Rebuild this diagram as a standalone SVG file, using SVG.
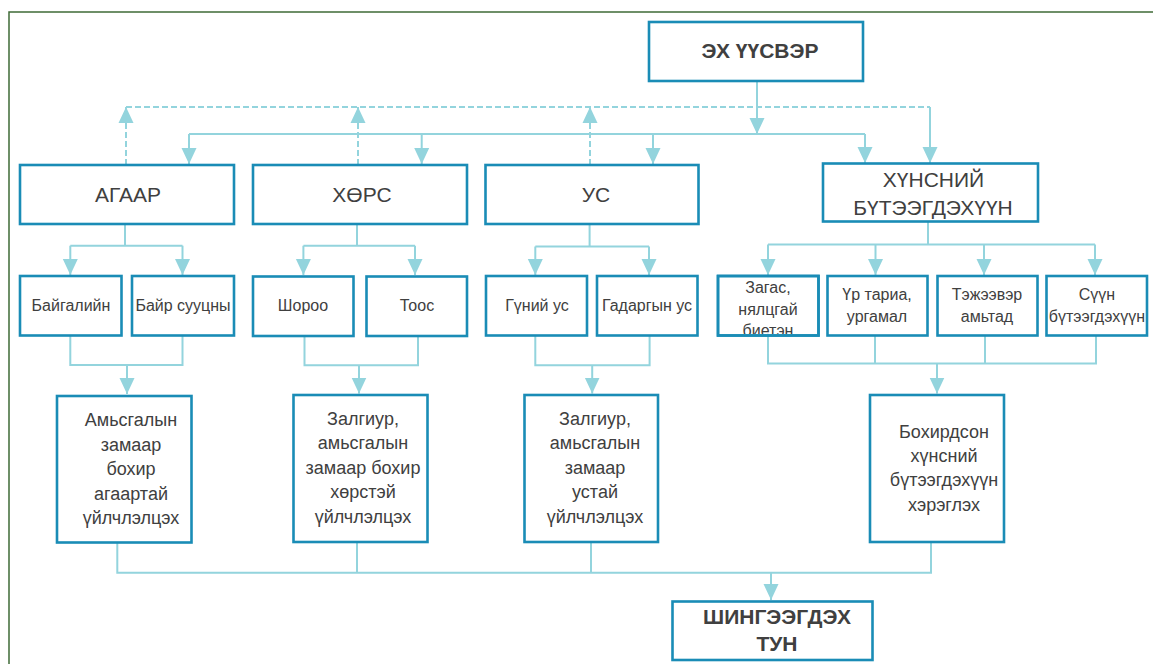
<svg xmlns="http://www.w3.org/2000/svg" width="1153" height="664" viewBox="0 0 1153 664">
<style>
.box{fill:#fff;stroke:#1a8cb6;stroke-width:2.6}
.bord{fill:none;stroke:#1a8cb6;stroke-width:2.6}
.c{fill:none;stroke:#93d4dd;stroke-width:2}
.d{fill:none;stroke:#93d4dd;stroke-width:2;stroke-dasharray:6 3}
.t{font-family:"Liberation Sans",Arial,sans-serif;fill:#404040;text-anchor:middle}
.t20{font-size:21px}
.t18{font-size:18px}
.t16{font-size:16px}
.b{font-weight:bold}
</style>
<defs>
<marker id="ah" markerUnits="userSpaceOnUse" markerWidth="16" markerHeight="16" viewBox="0 0 16 15" refX="16" refY="7.5" orient="auto">
<path d="M0,0 L16,7.5 L0,15 z" fill="#93d4dd"/>
</marker>
<clipPath id="clipZ"><rect x="719" y="277" width="99" height="57"/></clipPath>
</defs>
<rect x="9" y="12" width="1160" height="670" fill="none" stroke="#3f6b37" stroke-width="1.5"/>

<g id="connectors">
<path class="c" d="M757,81 V134" marker-end="url(#ah)"/>
<path class="c" d="M189,134 H865"/>
<path class="c" d="M189,134 V164" marker-end="url(#ah)"/>
<path class="c" d="M421.7,134 V164" marker-end="url(#ah)"/>
<path class="c" d="M653,134 V164" marker-end="url(#ah)"/>
<path class="c" d="M865,134 V163" marker-end="url(#ah)"/>
<path class="d" d="M126,107 H930"/>
<path class="c" d="M930,107 V163" marker-end="url(#ah)"/>
<path class="d" d="M126,165 V107" marker-end="url(#ah)"/>
<path class="d" d="M358,165 V107" marker-end="url(#ah)"/>
<path class="d" d="M590,165 V107" marker-end="url(#ah)"/>

<path class="c" d="M125,224 V245.7 M70.3,245.7 H182.5"/>
<path class="c" d="M70.3,245.7 V275" marker-end="url(#ah)"/>
<path class="c" d="M182.5,245.7 V275" marker-end="url(#ah)"/>
<path class="c" d="M357,224 V245.7 M303.4,245.7 H415"/>
<path class="c" d="M303.4,245.7 V275" marker-end="url(#ah)"/>
<path class="c" d="M415,245.7 V275" marker-end="url(#ah)"/>
<path class="c" d="M589.6,224 V246.5 M535.3,246.5 H649"/>
<path class="c" d="M535.3,246.5 V275" marker-end="url(#ah)"/>
<path class="c" d="M649,246.5 V275" marker-end="url(#ah)"/>
<path class="c" d="M928,222 V244.5 M768,244.5 H1095"/>
<path class="c" d="M768,244.5 V275" marker-end="url(#ah)"/>
<path class="c" d="M875.5,244.5 V275" marker-end="url(#ah)"/>
<path class="c" d="M984,244.5 V275" marker-end="url(#ah)"/>
<path class="c" d="M1095,244.5 V275" marker-end="url(#ah)"/>

<path class="c" d="M70.3,335.5 V365 H182.5 V335.5"/>
<path class="c" d="M127,365 V394" marker-end="url(#ah)"/>
<path class="c" d="M304.5,336 V365.3 H418 V336"/>
<path class="c" d="M359,365.3 V393.5" marker-end="url(#ah)"/>
<path class="c" d="M535.3,335.5 V365.3 H649.6 V335.5"/>
<path class="c" d="M592.2,365.3 V393.5" marker-end="url(#ah)"/>
<path class="c" d="M768,335.5 V363.5 H1096 V335.5 M875,335.5 V363.5 M985,335.5 V363.5"/>
<path class="c" d="M937,363.5 V393.5" marker-end="url(#ah)"/>

<path class="c" d="M117.3,542.7 V572.7 H931 V542.7 M357,542.7 V572.7 M591,542.7 V572.7"/>
<path class="c" d="M771,572.7 V600" marker-end="url(#ah)"/>
</g>

<g id="source">
<rect class="box" x="649" y="22" width="214" height="59"/>
<text class="t t20 b" x="760" y="57.5">ЭХ ҮҮСВЭР</text>
</g>

<g id="air">
<rect class="box" x="20" y="165" width="214" height="59"/>
<text class="t t20" x="128" y="202">АГААР</text>
</g>
<g id="soil">
<rect class="box" x="253" y="165" width="214" height="59"/>
<text class="t t20" x="362" y="202">ХӨРС</text>
</g>
<g id="water">
<rect class="box" x="485.5" y="165" width="213" height="59"/>
<text class="t t20" x="596" y="202">УС</text>
</g>
<g id="food">
<rect class="box" x="823" y="163.5" width="215" height="58"/>
<text class="t t20" x="933.5" y="186.5">ХҮНСНИЙ</text>
<text class="t t20" x="933" y="214.5">БҮТЭЭГДЭХҮҮН</text>
</g>

<g id="natural">
<rect class="box" x="20" y="276" width="101.5" height="59.5"/>
<text class="t t16" x="71" y="311">Байгалийн</text>
</g>
<g id="residential">
<rect class="box" x="132" y="276" width="102" height="59.5"/>
<text class="t t16" x="183" y="311">Байр сууцны</text>
</g>
<g id="dust-soil">
<rect class="box" x="253" y="276.5" width="100.5" height="59.5"/>
<text class="t t16" x="303" y="311">Шороо</text>
</g>
<g id="dust">
<rect class="box" x="366.5" y="276.5" width="100.5" height="59.5"/>
<text class="t t16" x="417" y="311">Тоос</text>
</g>
<g id="groundwater">
<rect class="box" x="486" y="276" width="101" height="59.5"/>
<text class="t t16" x="537" y="311">Гүний ус</text>
</g>
<g id="surfacewater">
<rect class="box" x="597" y="276" width="100.5" height="59.5"/>
<text class="t t16" x="647" y="311">Гадаргын ус</text>
</g>
<g id="fish">
<rect class="box" x="718" y="276" width="100.5" height="59.5"/>
<g clip-path="url(#clipZ)">
<text class="t t16" x="768" y="293">Загас,</text>
<text class="t t16" x="768" y="314.5">нялцгай</text>
<text class="t t16" x="768" y="336">биетэн</text>
</g>
<rect class="bord" x="718" y="276" width="100.5" height="59.5"/>
</g>
<g id="grain">
<rect class="box" x="827.5" y="276" width="100" height="59.5"/>
<text class="t t16" x="877" y="300">Үр тариа,</text>
<text class="t t16" x="877" y="322">ургамал</text>
</g>
<g id="livestock">
<rect class="box" x="937.5" y="276" width="100" height="59.5"/>
<text class="t t16" x="987" y="300">Тэжээвэр</text>
<text class="t t16" x="987" y="322">амьтад</text>
</g>
<g id="dairy">
<rect class="box" x="1046.5" y="276" width="100.5" height="59.5"/>
<text class="t t16" x="1097" y="300">Сүүн</text>
<text class="t t16" x="1097" y="322">бүтээгдэхүүн</text>
</g>

<g id="inhalation">
<rect class="box" x="57" y="396" width="134.5" height="146.5"/>
<text class="t t18" x="131" y="426">Амьсгалын</text>
<text class="t t18" x="131" y="450.5">замаар</text>
<text class="t t18" x="131" y="475">бохир</text>
<text class="t t18" x="131" y="499.5">агаартай</text>
<text class="t t18" x="131" y="524">үйлчлэлцэх</text>
</g>
<g id="ingest-soil">
<rect class="box" x="293.5" y="395" width="134" height="147"/>
<text class="t t18" x="363" y="424.5">Залгиур,</text>
<text class="t t18" x="363" y="449">амьсгалын</text>
<text class="t t18" x="363" y="473.5">замаар бохир</text>
<text class="t t18" x="363" y="498">хөрстэй</text>
<text class="t t18" x="363" y="522.5">үйлчлэлцэх</text>
</g>
<g id="ingest-water">
<rect class="box" x="524.5" y="395" width="133.5" height="147"/>
<text class="t t18" x="595" y="424.5">Залгиур,</text>
<text class="t t18" x="595" y="449">амьсгалын</text>
<text class="t t18" x="595" y="473.5">замаар</text>
<text class="t t18" x="595" y="498">устай</text>
<text class="t t18" x="595" y="522.5">үйлчлэлцэх</text>
</g>
<g id="consume">
<rect class="box" x="870" y="395" width="134" height="147"/>
<text class="t t18" x="944" y="438">Бохирдсон</text>
<text class="t t18" x="944" y="461.5">хүнсний</text>
<text class="t t18" x="944" y="486">бүтээгдэхүүн</text>
<text class="t t18" x="944" y="511">хэрэглэх</text>
</g>

<g id="dose">
<rect class="box" x="672.5" y="601.5" width="200" height="58.5"/>
<text class="t t20 b" x="777" y="624">ШИНГЭЭГДЭХ</text>
<text class="t t20 b" x="777" y="651">ТУН</text>
</g>
</svg>
